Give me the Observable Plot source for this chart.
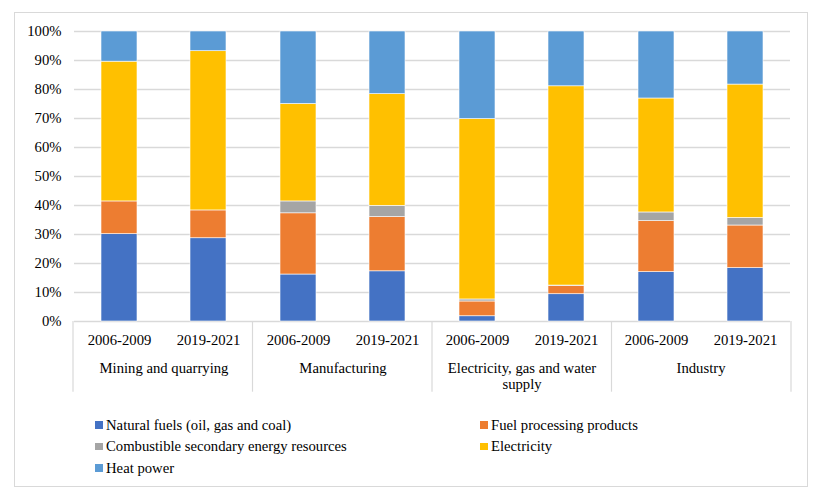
<!DOCTYPE html>
<html>
<head>
<meta charset="utf-8">
<script src="https://cdn.jsdelivr.net/npm/d3@7"></script>
<script src="https://cdn.jsdelivr.net/npm/@observablehq/plot@0.6"></script>
<style>
  body { margin: 0; background: #fff; font-family: "Liberation Serif", "Tinos", "Times New Roman", "DejaVu Serif", serif; }
  #box { position: absolute; left: 14px; top: 12px; width: 792px; height: 473px; border: 1px solid #d9d9d9; }
  #chart { position: absolute; left: 0; top: 0; }
  #legend { position: absolute; left: 0; top: 401px; width: 792px; font-size: 14.7px; color: #000; }
  .item { position: absolute; display: flex; align-items: center; white-space: nowrap; height: 22px; }
  .sw { width: 7.5px; height: 7.5px; margin-right: 3.5px; display: inline-block; }
</style>
</head>
<body>
<div id="box"><div id="chart"></div><div id="legend"></div></div>
<script>
const categories = ["Mining and quarrying", "Manufacturing", "Electricity, gas and water supply", "Industry"];
const periods = ["2006-2009", "2019-2021"];
const sources = ["Natural fuels (oil, gas and coal)", "Fuel processing products", "Combustible secondary energy resources", "Electricity", "Heat power"];
const colors = ["#4472C4", "#ED7D31", "#A5A5A5", "#FFC000", "#5B9BD5"];
// shares (%) per bar, order: Mining 06, Mining 19, Manuf 06, Manuf 19, Elec 06, Elec 19, Industry 06, Industry 19
const naturalFuels  = [30.1, 28.7, 16.2, 17.3, 1.8, 9.4, 17.0, 18.4];
const fuelProducts  = [11.3, 9.6, 21.1, 18.7, 5.1, 2.8, 17.6, 14.7];
const combustible   = [0.0, 0.0, 4.1, 3.9, 0.7, 0.2, 3.0, 2.6];
const electricity   = [48.2, 54.9, 33.6, 38.5, 62.2, 68.7, 39.3, 46.0];
const heatPower     = [10.4, 6.8, 25.0, 21.6, 30.2, 18.9, 23.1, 18.3];
const yTicks = [0, 0.1, 0.2, 0.3, 0.4, 0.5, 0.6, 0.7, 0.8, 0.9, 1];

const series = [naturalFuels, fuelProducts, combustible, electricity, heatPower];
const data = [];
categories.forEach((c, ci) => periods.forEach((p, pi) => {
  const i = ci * 2 + pi;
  sources.forEach((s, si) => data.push({category: c, period: p, source: s, value: series[si][i]}));
}));

const font = '"Liberation Serif", "Tinos", "Times New Roman", "DejaVu Serif", serif';
const ML = 58, MR = 16, W = 792;
const plot = Plot.plot({
  width: W,
  height: 385,
  marginLeft: ML,
  marginRight: MR,
  marginTop: 18,
  marginBottom: 77,
  style: {fontFamily: font, fontSize: "14.7px", color: "#000", background: "transparent"},
  fx: {domain: categories, paddingInner: 0, paddingOuter: 0, label: null},
  x: {domain: periods, paddingInner: 0.6, paddingOuter: 0.3, label: null},
  y: {domain: [0, 1], label: null},
  color: {domain: sources, range: colors},
  marks: [
    Plot.gridY(yTicks, {stroke: "#d9d9d9", strokeOpacity: 1, strokeWidth: 1.3}),
    Plot.barY(data, Plot.stackY({offset: "normalize", order: sources},
      {fx: "category", x: "period", y: "value", fill: "source", stroke: "white", strokeWidth: 0.6})),
    Plot.axisY(yTicks, {tickSize: 0, tickPadding: 13, tickFormat: d3.format(".0%"), label: null, fontSize: "14.7px"}),
    Plot.axisX({tickSize: 0, tickPadding: 12.6, label: null, fontSize: "14.7px"}),
    Plot.axisFx({anchor: "bottom", tickSize: 0, tickPadding: 40, label: null, fontSize: "14.7px", lineHeight: 1.08,
      tickFormat: d => d === "Electricity, gas and water supply" ? "Electricity, gas and water\nsupply" : d})
  ]
});
document.getElementById("chart").appendChild(plot);

// separators between categories under the axis, positioned from Plot's own fx / y scales
const fxs = plot.scale("fx"), ys = plot.scale("y");
const range = (fxs && fxs.range) ? fxs.range : [ML, W - MR];
const band = d3.scaleBand().domain(categories).range(range).paddingInner(0).paddingOuter(0);
const y0 = d3.scaleLinear().domain(ys.domain).range(ys.range)(0);
const edges = categories.map(c => band(c)).concat([band(categories[categories.length - 1]) + band.bandwidth()]);
d3.select(plot).append("g").selectAll("line").data(edges).join("line")
  .attr("x1", d => d).attr("x2", d => d)
  .attr("y1", y0).attr("y2", y0 + 70.7)
  .attr("stroke", "#d9d9d9").attr("stroke-width", 1.2);

// legend
const legend = document.getElementById("legend");
const pos = [[80, 0], [465, 0], [80, 21.6], [465, 21.6], [80, 43.2]];
sources.forEach((s, i) => {
  const el = document.createElement("div");
  el.className = "item";
  el.style.left = pos[i][0] + "px";
  el.style.top = pos[i][1] + "px";
  el.innerHTML = `<span class="sw" style="background:${colors[i]}"></span><span>${s}</span>`;
  legend.appendChild(el);
});
</script>
</body>
</html>
